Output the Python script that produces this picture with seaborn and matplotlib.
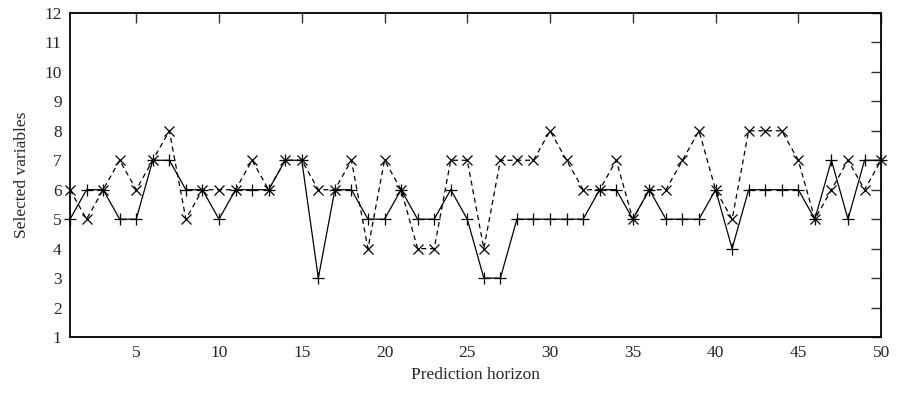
import numpy as np
import pandas as pd
import seaborn as sns
import matplotlib.pyplot as plt

# prediction horizon 1..50
horizon = list(range(1, 51))

# solid line, '+' markers
sel_a = [5, 6, 6, 5, 5, 7, 7, 6, 6, 5,
         6, 6, 6, 7, 7, 3, 6, 6, 5, 5,
         6, 5, 5, 6, 5, 3, 3, 5, 5, 5,
         5, 5, 6, 6, 5, 6, 5, 5, 5, 6,
         4, 6, 6, 6, 6, 5, 7, 5, 7, 7]

# dashed line, 'x' markers
sel_b = [6, 5, 6, 7, 6, 7, 8, 5, 6, 6,
         6, 7, 6, 7, 7, 6, 6, 7, 4, 7,
         6, 4, 4, 7, 7, 4, 7, 7, 7, 8,
         7, 6, 6, 7, 5, 6, 6, 7, 8, 6,
         5, 8, 8, 8, 7, 5, 6, 7, 6, 7]

x_ticks = [5, 10, 15, 20, 25, 30, 35, 40, 45, 50]
y_ticks = list(range(1, 13))

df = pd.DataFrame({"h": horizon, "a": sel_a, "b": sel_b})

sns.set_style("white")
plt.rcParams["font.family"] = ["Liberation Serif", "DejaVu Serif"]

fig = plt.figure(figsize=(9, 3.94), dpi=100)
ax = fig.add_axes([0.0778, 0.1447, 0.9012, 0.8223])

sns.lineplot(data=df, x="h", y="a", ax=ax, color="black", linewidth=0.9,
             marker="+", markersize=8, markeredgewidth=0.9,
             markeredgecolor="black", linestyle="-", clip_on=False)
sns.lineplot(data=df, x="h", y="b", ax=ax, color="black", linewidth=0.9,
             marker="x", markersize=6.5, markeredgewidth=0.9,
             markeredgecolor="black", linestyle=(0, (4, 3)), clip_on=False)

ax.set_xlim(1, 50)
ax.set_ylim(1, 12)
ax.set_xticks(x_ticks)
ax.set_yticks(y_ticks)
ax.tick_params(direction="in", length=7, width=1, top=True, right=True,
               labelsize=12.5, pad=6, color="#333333")
for s in ax.spines.values():
    s.set_linewidth(1.3)
    s.set_color("black")

ax.set_xlabel("Prediction horizon", fontsize=12.5, labelpad=4)
ax.set_ylabel("Selected variables", fontsize=12.5, labelpad=10)

fig.savefig("out.png", dpi=100)
